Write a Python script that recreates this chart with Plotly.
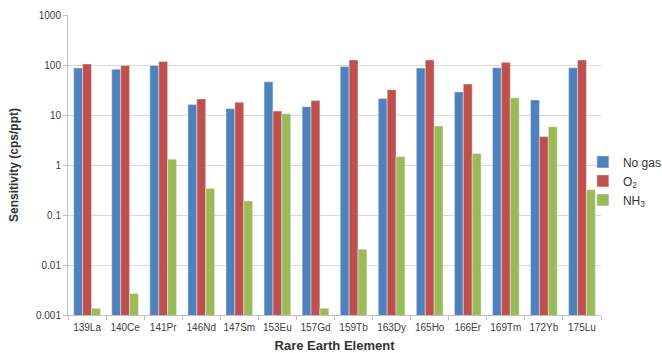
import plotly.graph_objects as go

elements = ["139La", "140Ce", "141Pr", "146Nd", "147Sm", "153Eu", "157Gd",
            "159Tb", "163Dy", "165Ho", "166Er", "169Tm", "172Yb", "175Lu"]
no_gas = [87, 82, 98, 16.3, 13.4, 46, 14.7, 93, 21.5, 87, 29, 88, 20, 88]
o2 = [105, 98, 117, 21, 17.9, 12, 19.4, 126, 32, 126, 41.7, 113, 3.7, 126]
nh3 = [0.00136, 0.0027, 1.3, 0.34, 0.19, 10.6, 0.00136, 0.0206, 1.47, 6.0, 1.7, 22, 5.8, 0.32]

tick_vals = [0.001, 0.01, 0.1, 1, 10, 100, 1000]
tick_text = ["0.001", "0.01", "0.1", "1", "10", "100", "1000"]

fig = go.Figure()
fig.add_trace(go.Bar(name="No gas", x=elements, y=no_gas, marker_color="#4F81BD"))
fig.add_trace(go.Bar(name="O<sub>2</sub>", x=elements, y=o2, marker_color="#C0504D"))
fig.add_trace(go.Bar(name="NH<sub>3</sub>", x=elements, y=nh3, marker_color="#9BBB59"))

fig.update_layout(
    width=662, height=353,
    margin=dict(l=68, r=61, t=15, b=38, autoexpand=False),
    paper_bgcolor="white", plot_bgcolor="white",
    barmode="group", bargap=0.3, bargroupgap=0,
    font=dict(family="Liberation Sans, Arial, sans-serif", size=10, color="#404040"),
    legend=dict(x=0.966, xanchor="left",
                y=0.447, yanchor="middle",
                bgcolor="rgba(0,0,0,0)",
                font=dict(size=12, color="#333333"), tracegroupgap=0,
                itemwidth=30),
    showlegend=True,
)
fig.update_xaxes(
    showline=True, linecolor="#BFBFBF", linewidth=1,
    ticks="outside", tickson="boundaries", ticklen=4, tickcolor="#BFBFBF",
    tickangle=0, ticklabelstandoff=3,
    tickfont=dict(size=10, color="#404040"),
    title=dict(text="<b>Rare Earth Element</b>", font=dict(size=13, color="#333333"), standoff=9),
)
fig.update_yaxes(
    type="log", range=[-3, 3],
    tickvals=tick_vals, ticktext=tick_text,
    showline=True, linecolor="#BFBFBF", linewidth=1,
    ticks="outside", ticklen=4, tickcolor="#BFBFBF",
    showgrid=True, gridcolor="#D9D9D9", gridwidth=1,
    tickfont=dict(size=10, color="#404040"),
    title=dict(text="<b>Sensitivity (cps/ppt)</b>", font=dict(size=12, color="#333333"), standoff=14),
)

fig.write_html("out.html", config={"displayModeBar": False},
               post_script="document.body.style.margin='0';")
